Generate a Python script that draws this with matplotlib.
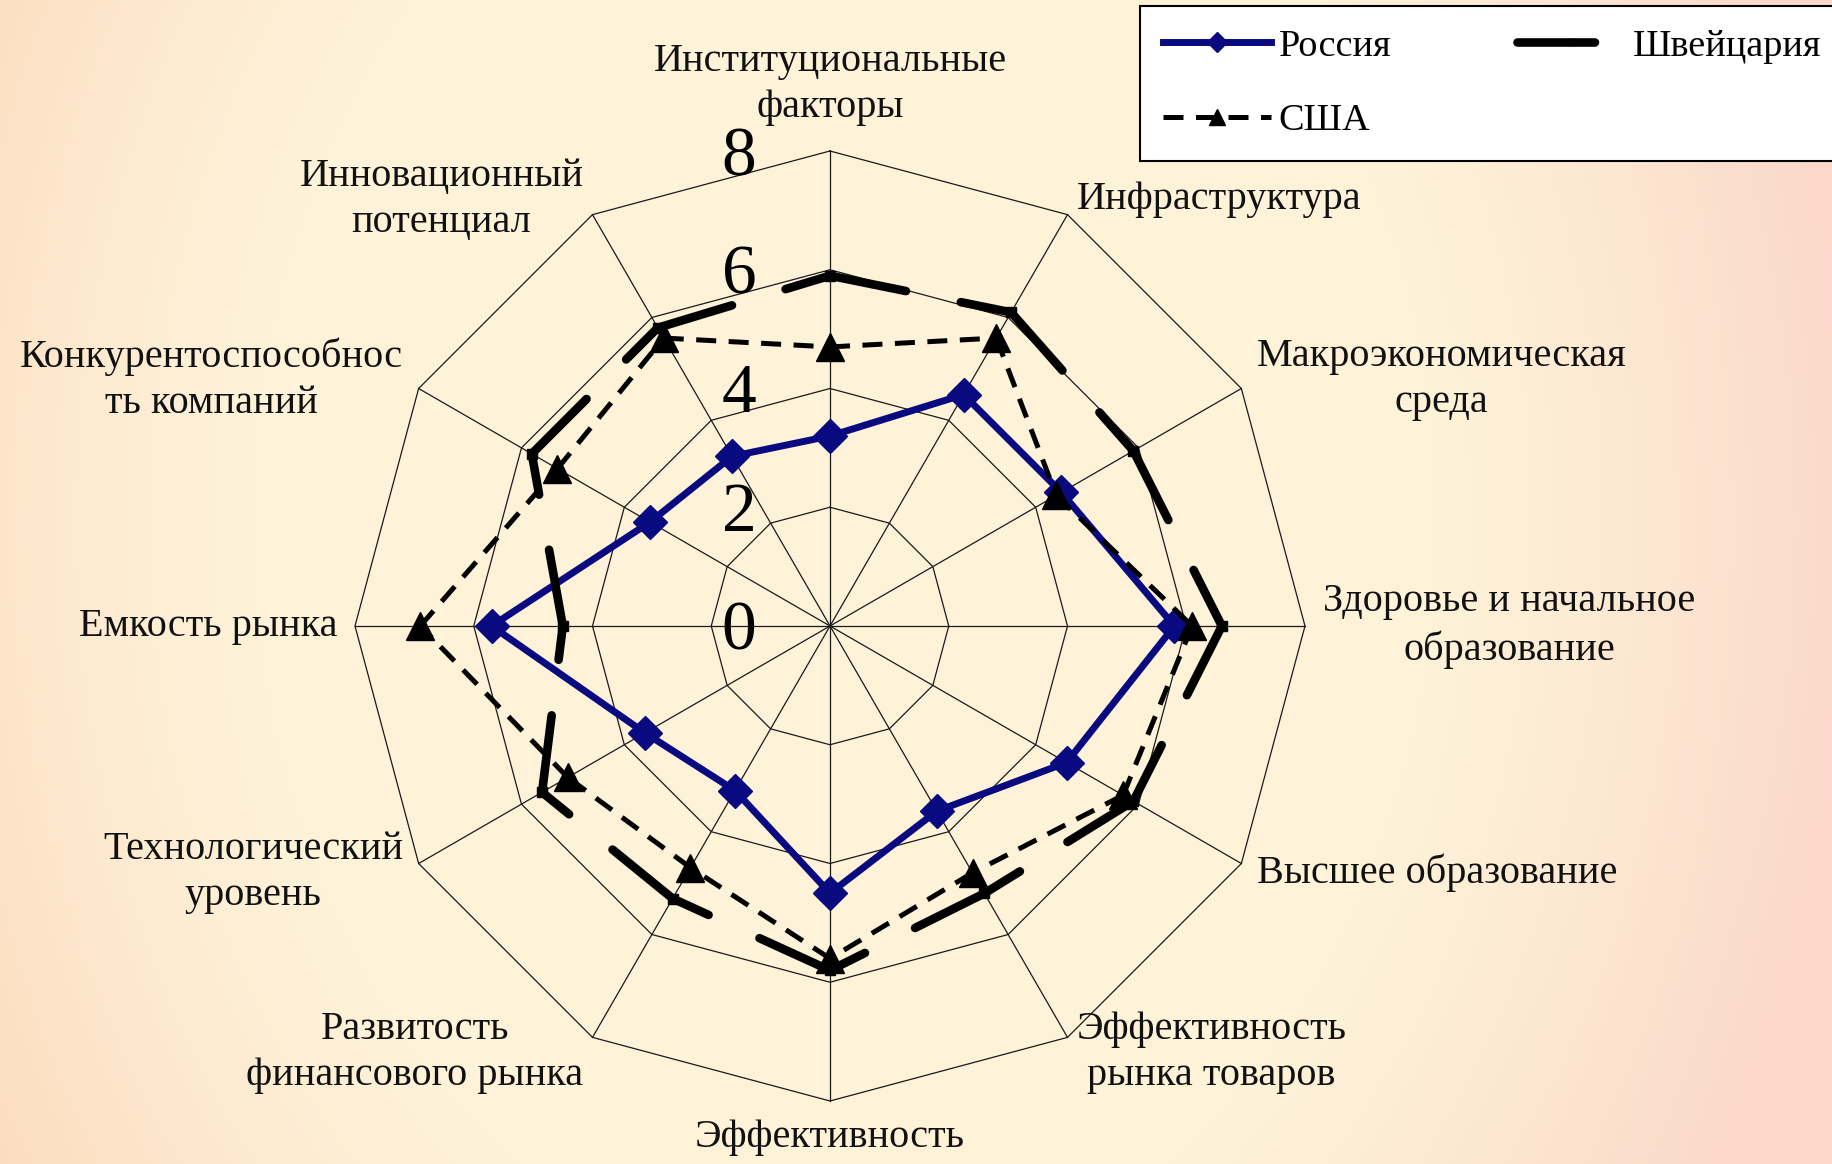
import numpy as np
import matplotlib
matplotlib.use('Agg')
import matplotlib.pyplot as plt
from matplotlib.transforms import offset_copy
from matplotlib.lines import Line2D

# ---------------- data ----------------
categories = [
    "Институциональные\nфакторы",
    "Инфраструктура",
    "Макроэкономическая\nсреда",
    "Здоровье и начальное\nобразование",
    "Высшее образование",
    "Эффективность\nрынка товаров",
    "Эффективность",
    "Развитость\nфинансового рынка",
    "Технологический\nуровень",
    "Емкость рынка",
    "Конкурентоспособнос\nть компаний",
    "Инновационный\nпотенциал",
]
russia = [3.2, 4.5, 4.5, 5.8, 4.6, 3.6, 4.5, 3.2, 3.6, 5.7, 3.5, 3.3]
switzerland = [5.9, 6.1, 5.9, 6.6, 5.9, 5.2, 5.8, 5.3, 5.6, 4.5, 5.8, 5.8]
usa = [4.7, 5.6, 4.4, 6.1, 5.7, 4.8, 5.6, 4.7, 5.1, 6.9, 5.3, 5.6]
series_names = ["Россия", "Швейцария", "США"]
r_ticks = [0, 2, 4, 6, 8]

# ---------------- figure ----------------
W, H = 1833, 1164
plt.rcParams['font.family'] = ['Liberation Serif', 'DejaVu Serif']
fig = plt.figure(figsize=(W / 100, H / 100), dpi=100)

# background gradient
bg = fig.add_axes([0, 0, 1, 1], zorder=-10)
gx = np.linspace(0, 1, 460)
gy = np.linspace(0, 1, 300)
X, Y = np.meshgrid(gx, gy)
c_center = np.array([254, 242, 217]) / 255
c_left = np.array([252, 218, 188]) / 255
c_right = np.array([251, 216, 203]) / 255
edge = c_left[None, None, :] * (1 - X[..., None]) + c_right[None, None, :] * X[..., None]
t = np.sqrt(((X - 0.46) / 0.54) ** 2 + ((Y - 0.55) / 1.1) ** 2)
t = np.clip((t - 0.6) / 0.42, 0, 1) ** 1.3
img = c_center[None, None, :] * (1 - t[..., None]) + edge * t[..., None]
bg.imshow(img, extent=[0, 1, 0, 1], aspect='auto', origin='lower')
bg.set_axis_off()

# polar axes: center (830, 626) px, radius 475 px
cx, cy, R = 830, 626, 475
ax = fig.add_axes([(cx - R) / W, (H - cy - R) / H, 2 * R / W, 2 * R / H],
                  projection='polar')
ax.set_theta_zero_location('N')
ax.set_theta_direction(-1)
ax.set_ylim(0, max(r_ticks))
ax.grid(False)
ax.spines['polar'].set_visible(False)
ax.set_xticks([])
ax.set_yticks([])
ax.patch.set_alpha(0)

n = len(categories)
angles = np.arange(n) * 2 * np.pi / n
closed = np.append(angles, angles[0])

grid_kw = dict(color='#1a1a1a', lw=0.9, clip_on=False, zorder=1)
for r in r_ticks[1:]:
    ax.plot(closed, [r] * (n + 1), **grid_kw)
for a in angles:
    ax.plot([a, a], [0, max(r_ticks)], **grid_kw)

# radial tick labels
tick_tr = offset_copy(ax.transData, fig=fig, x=-91, y=-24, units='dots')
for v in r_ticks:
    ax.text(0, v, str(v), transform=tick_tr, ha='center', va='baseline',
            fontsize=50, color='black', zorder=2)

# category labels
for a, lab in zip(angles, categories):
    deg = np.degrees(a)
    rr = 8.3
    if np.isclose(deg, 0):
        ha, va = 'center', 'bottom'
        rr = 8.42
    elif np.isclose(deg, 180):
        ha, va = 'center', 'top'
    elif deg < 180:
        ha, va = 'left', 'center'
    else:
        ha, va = 'right', 'center'
    ax.text(a, rr, lab, ha=ha, va=va, multialignment='center',
            fontsize=29, linespacing=1.33, color='#111111')

# series
def close(v):
    return list(v) + [v[0]]

ru_style = dict(color='#0a0a80', lw=5, linestyle='-')
ru_mark = dict(marker='D', markersize=17, markerfacecolor='#0a0a80',
               markeredgecolor='#0a0a80', color='#0a0a80')
sw_style = dict(color='black', lw=6.2, dashes=(9, 6.5), dash_capstyle='round')
sw_mark = dict(marker='s', markersize=6.5, color='black')
us_style = dict(color='black', lw=3.6, dashes=(4, 2.5))
us_mark = dict(marker='^', markersize=20, color='black')

for vals, style, mark, z in [(russia, ru_style, ru_mark, 3),
                             (switzerland, sw_style, sw_mark, 4),
                             (usa, us_style, us_mark, 5)]:
    cv = close(vals)
    if style.get('linestyle') == '-':
        ax.plot(closed, cv, clip_on=False, zorder=z, **style)
    else:
        for i in range(n):
            ax.plot(closed[i:i + 2], cv[i:i + 2], clip_on=False, zorder=z, **style)
    ax.plot(angles, vals, linestyle='none', clip_on=False, zorder=z + 0.5, **mark)

h_ru = Line2D([], [], **ru_style, **{k: v for k, v in ru_mark.items() if k != 'color'})
h_sw = Line2D([], [], **sw_style, **{k: v for k, v in sw_mark.items() if k != 'color'})
h_us = Line2D([], [], **us_style, **{k: v for k, v in us_mark.items() if k != 'color'})

leg = fig.legend([h_ru, h_us, h_sw], [series_names[0], series_names[2], series_names[1]],
                 ncol=2, loc='upper left', bbox_to_anchor=(1140 / W, 1 - 6 / H),
                 fontsize=27.5, frameon=True, fancybox=False, framealpha=1,
                 edgecolor='black', facecolor='white', borderaxespad=0,
                 borderpad=0.6, handlelength=2.83, handletextpad=0.2,
                 columnspacing=3.3, labelspacing=1.05, markerscale=0.6)
leg.get_frame().set_linewidth(1.5)

fig.savefig('out.png', dpi=100)
